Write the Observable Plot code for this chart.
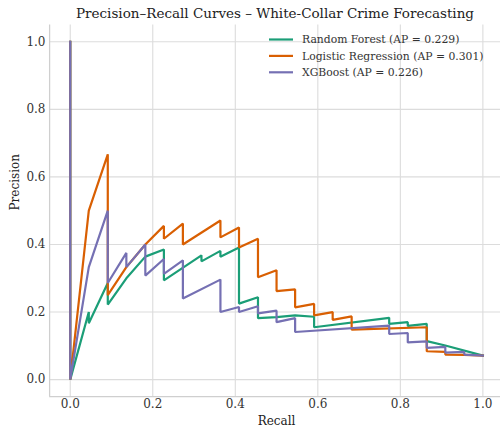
<!DOCTYPE html>
<html><head><meta charset="utf-8">
<script src="https://cdn.jsdelivr.net/npm/d3@7"></script>
<script src="https://cdn.jsdelivr.net/npm/@observablehq/plot@0.6"></script>
<style>body{margin:0;background:#fff} svg{display:block}</style>
</head><body><div id="chart"></div>
<script>
const titleText = "Precision–Recall Curves – White-Collar Crime Forecasting";
const xLabel = "Recall";
const yLabel = "Precision";
const models = ["Random Forest", "Logistic Regression", "XGBoost"];
const apValues = [0.229, 0.301, 0.226];
const colors = ["#1b9e77", "#d95f02", "#7570b3"];
const xTicks = [0, 0.2, 0.4, 0.6, 0.8, 1.0];
const yTicks = [0, 0.2, 0.4, 0.6, 0.8, 1.0];

const rfRecall =    [0, 0, 0.045, 0.045, 0.091, 0.091, 0.136, 0.182, 0.227, 0.227, 0.318, 0.318, 0.364, 0.364, 0.409, 0.409, 0.455, 0.455, 0.5, 0.545, 0.591, 0.591, 0.773, 0.773, 0.818, 0.818, 0.864, 0.864, 0.909, 1.0];
const rfPrecision = [1, 0, 0.200, 0.167, 0.286, 0.222, 0.300, 0.364, 0.385, 0.294, 0.368, 0.350, 0.381, 0.364, 0.391, 0.225, 0.244, 0.182, 0.185, 0.19, 0.186, 0.155, 0.183, 0.165, 0.170, 0.159, 0.165, 0.114, 0.101, 0.071];

const lrRecall =    [0, 0, 0.045, 0.091, 0.091, 0.136, 0.182, 0.227, 0.227, 0.273, 0.273, 0.364, 0.364, 0.409, 0.409, 0.455, 0.455, 0.5, 0.5, 0.545, 0.545, 0.591, 0.591, 0.636, 0.636, 0.682, 0.682, 0.864, 0.864, 0.909, 0.909, 0.955, 1.0];
const lrPrecision = [1, 0, 0.500, 0.667, 0.250, 0.333, 0.400, 0.455, 0.417, 0.462, 0.400, 0.471, 0.421, 0.450, 0.391, 0.417, 0.303, 0.324, 0.262, 0.267, 0.214, 0.224, 0.190, 0.200, 0.177, 0.187, 0.148, 0.155, 0.084, 0.082, 0.074, 0.073, 0.071];

const xgRecall =    [0, 0, 0.045, 0.091, 0.091, 0.136, 0.136, 0.182, 0.182, 0.227, 0.227, 0.273, 0.273, 0.364, 0.364, 0.409, 0.409, 0.455, 0.455, 0.5, 0.5, 0.545, 0.545, 0.773, 0.773, 0.818, 0.818, 0.864, 0.864, 0.909, 0.909, 0.955, 0.955, 1.0];
const xgPrecision = [1, 0, 0.333, 0.500, 0.286, 0.375, 0.333, 0.400, 0.308, 0.357, 0.313, 0.353, 0.240, 0.296, 0.200, 0.215, 0.200, 0.217, 0.196, 0.204, 0.170, 0.182, 0.141, 0.160, 0.135, 0.138, 0.110, 0.113, 0.094, 0.097, 0.080, 0.082, 0.074, 0.071];

const series = [
  [rfRecall, rfPrecision],
  [lrRecall, lrPrecision],
  [xgRecall, xgPrecision]
];
const rows = [];
series.forEach(([r, p], i) => r.forEach((v, j) => rows.push({model: models[i], recall: v, precision: p[j]})));

const W = 500, H = 428;
const serif = "DejaVu Serif, serif";
const grid = "#dcdcdc";
const fmt = d3.format(".1f");
const chart = Plot.plot({
  width: W, height: H,
  marginLeft: 49, marginRight: 0, marginTop: 24, marginBottom: 32,
  style: {fontFamily: serif, fontSize: "12px", color: "#333", background: "#fff", overflow: "hidden"},
  x: {domain: [-0.05, 1.05], range: [49.1, 503.0], ticks: xTicks, tickFormat: fmt, label: null},
  y: {domain: [-0.05, 1.05], range: [396, 24.4], ticks: yTicks, tickFormat: fmt, label: null},
  color: {domain: models, range: colors},
  marks: [
    Plot.ruleX(xTicks, {x: d => d, y1: -0.05, y2: 1.05, stroke: grid, strokeWidth: 1.1}),
    Plot.ruleY(yTicks, {y: d => d, x1: -0.05, x2: 1.05, stroke: grid, strokeWidth: 1.1}),
    Plot.ruleX([-0.05], {y1: -0.05, y2: 1.05, stroke: "#cfcfcf", strokeWidth: 1.25}),
    Plot.ruleY([-0.05], {x1: -0.05, x2: 1.05, stroke: "#cfcfcf", strokeWidth: 1.25}),
    Plot.axisX(xTicks, {tickSize: 0, tickPadding: 3, tickFormat: fmt, fontSize: 12, fontFamily: serif, fontVariant: "normal", fill: "#333", label: null}),
    Plot.axisY(yTicks, {tickSize: 0, tickPadding: 4, tickFormat: fmt, fontSize: 12, fontFamily: serif, fontVariant: "normal", fill: "#333", label: null}),
    Plot.line(rows, {x: "recall", y: "precision", z: "model", stroke: "model", strokeWidth: 2.2, strokeLinejoin: "miter", strokeLinecap: "square"}),
    Plot.text([titleText], {frameAnchor: "top", lineAnchor: "middle", dy: -11, fontSize: 13.5, fontFamily: serif, fill: "#222", text: d => d}),
    Plot.text([xLabel], {x: 0.5, y: -0.05, dy: 25, fontSize: 12, fontFamily: serif, fill: "#222", text: d => d}),
    Plot.text([yLabel], {frameAnchor: "left", dx: -34, rotate: -90, fontSize: 12, fontFamily: serif, fill: "#222", text: d => d})
  ]
});
document.getElementById("chart").appendChild(chart);

// legend
const svg = d3.select(chart.tagName.toLowerCase() === "svg" ? chart : chart.querySelector("svg"));
const lg = svg.append("g").attr("font-family", serif).attr("font-size", 10.8).attr("text-anchor", "start");
models.forEach((m, i) => {
  const yy = 39.5 + i * 16.4;
  lg.append("line").attr("x1", 269).attr("x2", 293).attr("y1", yy).attr("y2", yy)
    .attr("stroke", colors[i]).attr("stroke-width", 2.2);
  lg.append("text").attr("x", 302).attr("y", yy).attr("dy", "0.35em").attr("fill", "#333")
    .attr("text-anchor", "start")
    .text(`${m} (AP = ${apValues[i].toFixed(3)})`);
});
</script>
</body></html>
